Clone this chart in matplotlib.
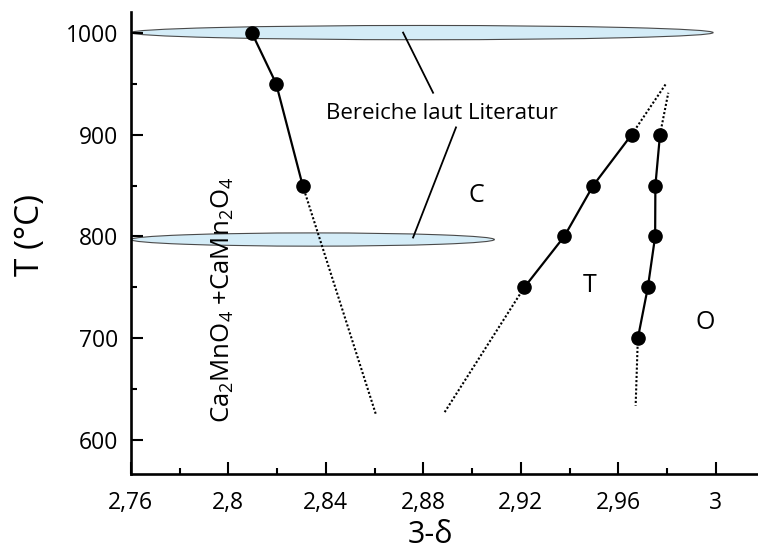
import matplotlib
matplotlib.use("Agg")
import matplotlib.pyplot as plt
from matplotlib.patches import Ellipse
from matplotlib.ticker import MultipleLocator, FuncFormatter

plt.rcParams['font.family'] = ['Open Sans', 'DejaVu Sans']
plt.rcParams['mathtext.fontset'] = 'custom'
plt.rcParams['mathtext.rm'] = 'Open Sans'

# Measured phase boundaries: oxygen content (3-delta) vs temperature
c_x = [2.8096, 2.8196, 2.8305]
c_t = [1000, 950, 850]
t_x = [2.9214, 2.9378, 2.9497, 2.9655]
t_t = [750, 800, 850, 900]
o_x = [2.9680, 2.9721, 2.9751, 2.9752, 2.9771]
o_t = [700, 750, 800, 850, 900]

# Extrapolated parts of the boundaries (start, end)
c_ext_x, c_ext_t = [2.8305, 2.8606], [850, 625]
t_low_x, t_low_t = [2.9214, 2.8883], [750, 626]
t_up_x, t_up_t = [2.9655, 2.9796], [900, 950]
o_low_x, o_low_t = [2.9680, 2.9671], [700, 634]
o_up_x, o_up_t = [2.9771, 2.9805], [900, 941]

# Literature ranges: (center x, center T, width, height)
lit_upper = (2.8795, 1000, 0.2388, 14)
lit_lower = (2.8346, 797, 0.1491, 13)

# Leader lines from the label to both ranges
lead1_x, lead1_t = [2.8717, 2.8840], [1000, 941]
lead2_x, lead2_t = [2.8934, 2.8758], [907, 799]

fig = plt.figure(figsize=(7.58, 5.52), dpi=100)
ax = fig.add_axes([0.1726, 0.1413, 0.8274, 0.8375])
ax.set_xlim(2.76, 3.0173)
ax.set_ylim(567, 1020.5)

fill = '#d4ecf7'
for cx, cy, w, h in (lit_upper, lit_lower):
    ax.add_patch(Ellipse((cx, cy), w, h, facecolor=fill, edgecolor='#4a4a4a',
                         linewidth=0.8, zorder=1))

ax.plot(lead1_x, lead1_t, color='black', lw=1.3, zorder=2)
ax.plot(lead2_x, lead2_t, color='black', lw=1.3, zorder=2)

dot = dict(color='black', lw=1.5, linestyle=(0, (1.0, 1.0)), zorder=2)
for ex, et in ((c_ext_x, c_ext_t), (t_low_x, t_low_t), (t_up_x, t_up_t),
               (o_low_x, o_low_t), (o_up_x, o_up_t)):
    ax.plot(ex, et, **dot)

for sx, st in ((c_x, c_t), (t_x, t_t), (o_x, o_t)):
    ax.plot(sx, st, color='black', lw=1.6, marker='o', markersize=9.5,
            zorder=3)

ax.text(2.8877, 915, 'Bereiche laut Literatur', ha='center', va='baseline',
        fontsize=16)
ax.text(2.9019, 834, 'C', ha='center', va='baseline', fontsize=18)
ax.text(2.9481, 746, 'T', ha='center', va='baseline', fontsize=18)
ax.text(2.9956, 709, 'O', ha='center', va='baseline', fontsize=18)
ax.text(2.7978, 738,
        r'Ca$\mathregular{_2}$MnO$\mathregular{_4}$ +CaMn$\mathregular{_2}$O$\mathregular{_4}$',
        rotation=90, ha='center', va='center', fontsize=18.5)

for s in ('top', 'right'):
    ax.spines[s].set_visible(False)
for s in ('left', 'bottom'):
    ax.spines[s].set_linewidth(1.9)

ax.xaxis.set_major_locator(MultipleLocator(0.04))
ax.xaxis.set_minor_locator(MultipleLocator(0.02))
ax.yaxis.set_major_locator(MultipleLocator(100))
ax.yaxis.set_minor_locator(MultipleLocator(50))
ax.xaxis.set_major_formatter(FuncFormatter(lambda v, p: f'{v:g}'.replace('.', ',')))
ax.tick_params(which='major', direction='in', length=8.5, width=1.5,
               labelsize=16.5)
ax.tick_params(which='minor', direction='in', length=4.5, width=1.5)
ax.tick_params(axis='x', which='major', pad=12)
ax.tick_params(axis='y', which='major', pad=9)

ax.set_xlabel('3-δ', fontsize=22)
ax.xaxis.set_label_coords(0.477, -0.132)
ax.xaxis.label.set_verticalalignment('center')
ax.set_ylabel('T (°C)', fontsize=24)
ax.yaxis.set_label_coords(-0.1607, 0.517)
ax.yaxis.label.set_verticalalignment('center')

fig.savefig('out.png', dpi=100)
